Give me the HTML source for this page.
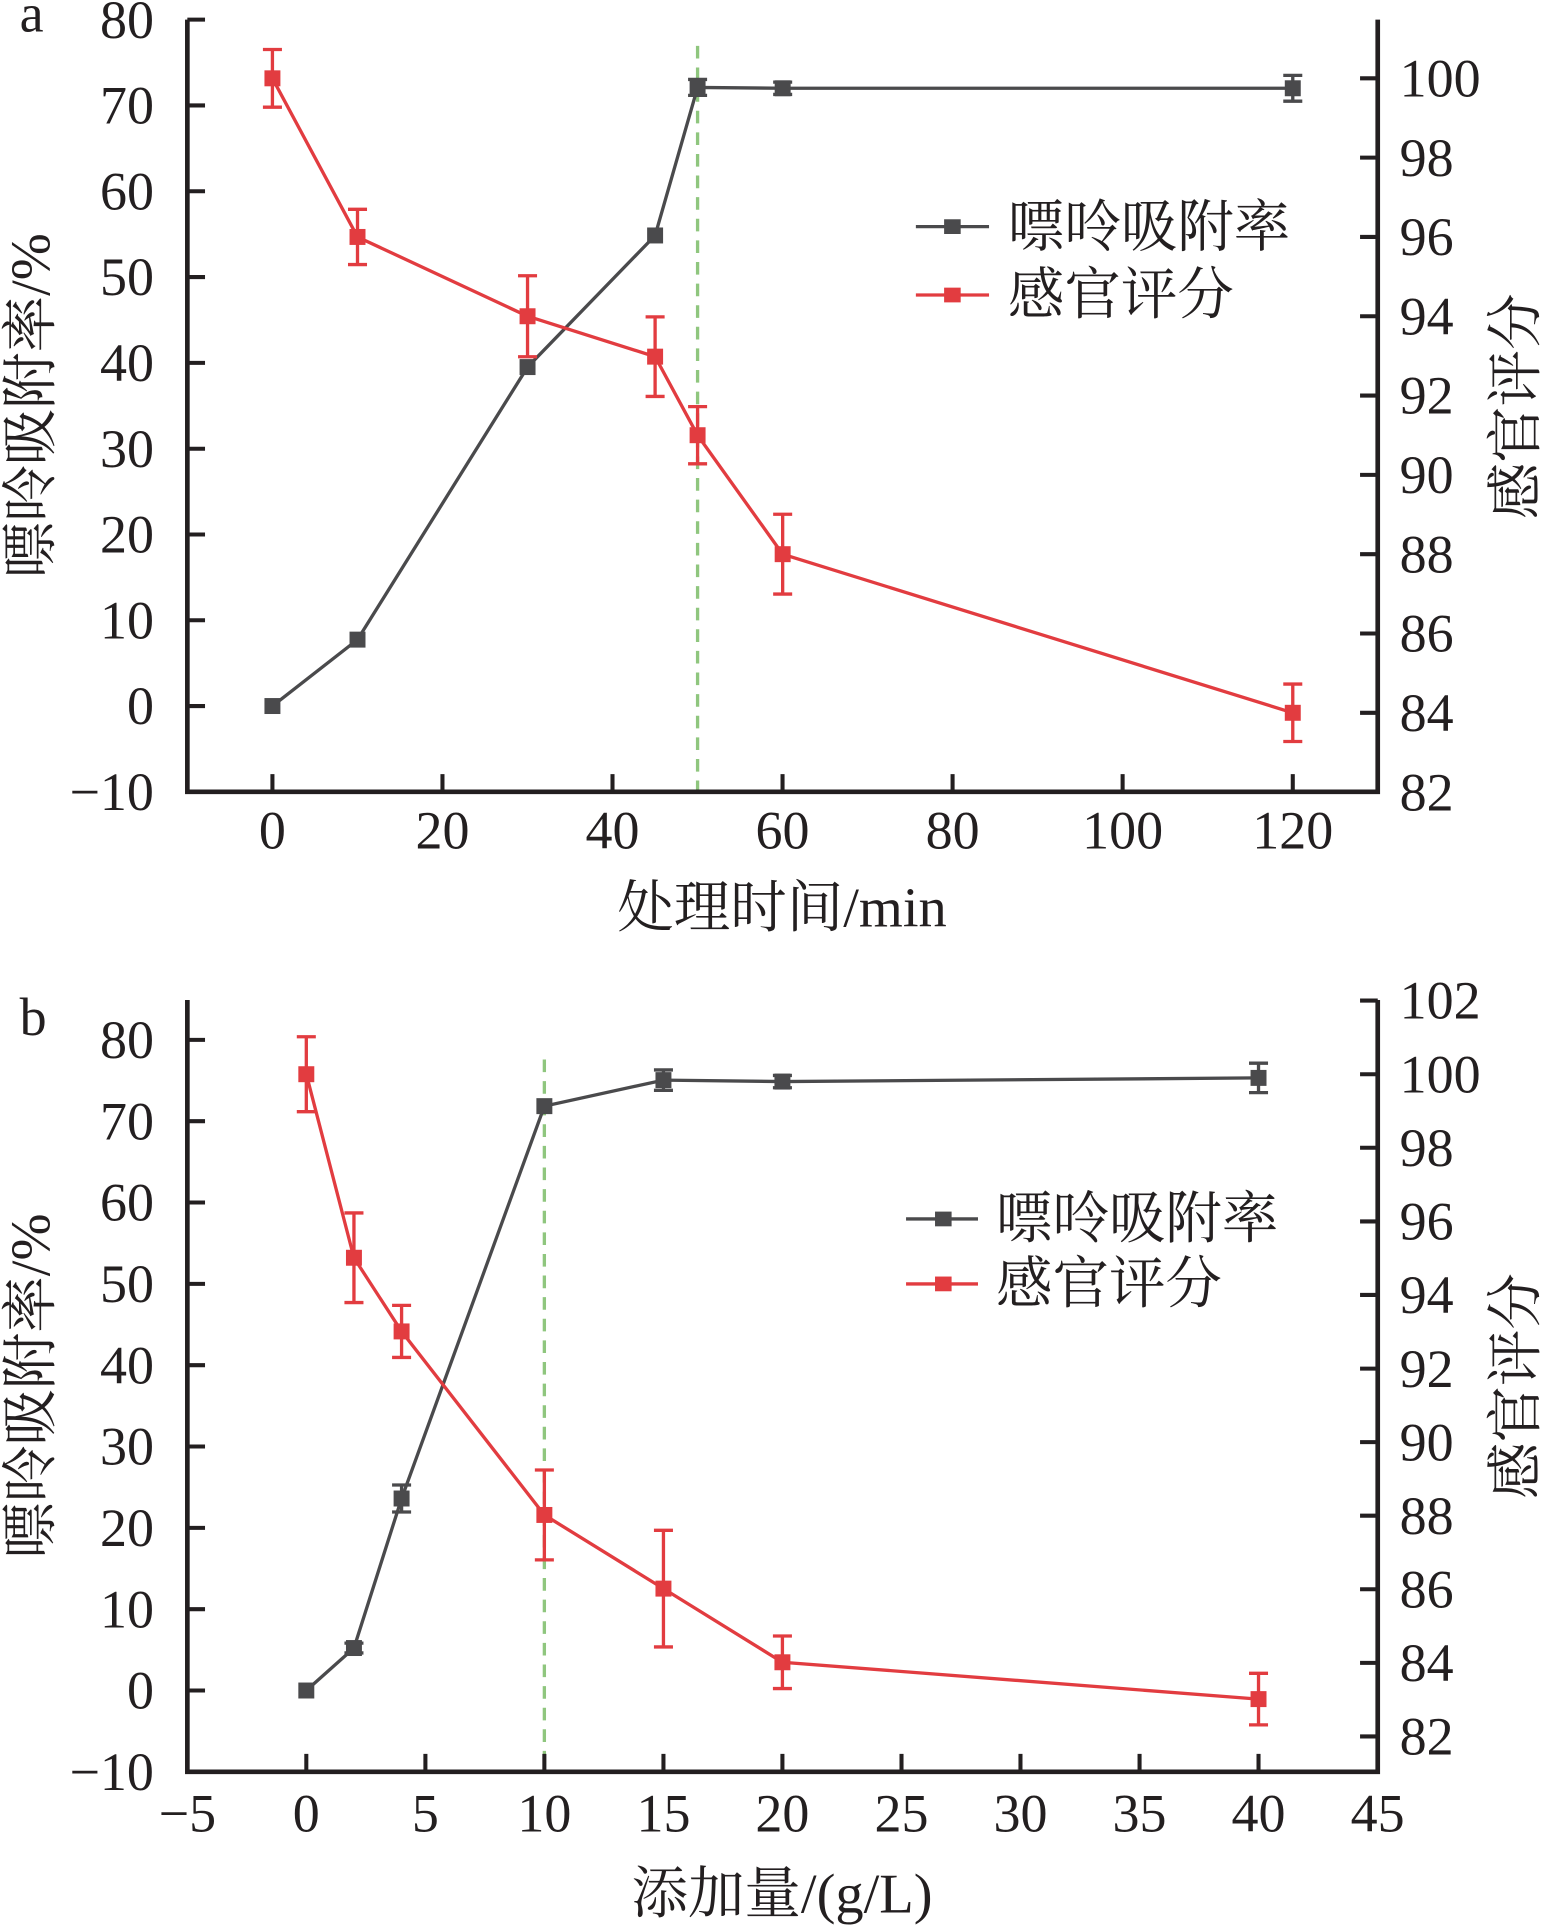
<!DOCTYPE html>
<html>
<head>
<meta charset="utf-8">
<style>
html,body{margin:0;padding:0;background:#fff;}
svg{display:block;}
text{font-family:"Liberation Serif","Noto Serif CJK SC",serif;fill:#231f20;}
</style>
</head>
<body>
<svg width="1542" height="1925" viewBox="0 0 1256 1568" preserveAspectRatio="none" xmlns="http://www.w3.org/2000/svg">
<rect x="0" y="0" width="1256" height="1568" fill="#fff"/>

<!-- ================= PANEL A ================= -->
<g>
<!-- green dashed -->
<line x1="568.2" y1="37.4" x2="568.2" y2="645" stroke="#8fc67e" stroke-width="2.7" stroke-dasharray="10.3 7.3"/>

<!-- axes -->
<path d="M152.6,16 V645 H1122.2 V16" fill="none" stroke="#231f20" stroke-width="3.8"/>
<!-- left ticks -->
<path d="M152.6,16h14.4M152.6,85.9h14.4M152.6,155.8h14.4M152.6,225.7h14.4M152.6,295.6h14.4M152.6,365.5h14.4M152.6,435.4h14.4M152.6,505.2h14.4M152.6,575.1h14.4" stroke="#231f20" stroke-width="3.3"/>
<!-- right ticks -->
<path d="M1122.2,63.8h-14.4M1122.2,128.4h-14.4M1122.2,193h-14.4M1122.2,257.6h-14.4M1122.2,322.2h-14.4M1122.2,386.8h-14.4M1122.2,451.4h-14.4M1122.2,516h-14.4M1122.2,580.6h-14.4" stroke="#231f20" stroke-width="3.3"/>
<!-- x ticks -->
<path d="M221.9,645v-14.4M360.4,645v-14.4M498.9,645v-14.4M637.4,645v-14.4M775.9,645v-14.4M914.4,645v-14.4M1053,645v-14.4" stroke="#231f20" stroke-width="3.3"/>

<!-- left tick labels -->
<g font-size="44" text-anchor="end">
<text x="125.4" y="30.8">80</text>
<text x="125.4" y="100.7">70</text>
<text x="125.4" y="170.6">60</text>
<text x="125.4" y="240.5">50</text>
<text x="125.4" y="310.4">40</text>
<text x="125.4" y="380.3">30</text>
<text x="125.4" y="450.2">20</text>
<text x="125.4" y="520">10</text>
<text x="125.4" y="589.9">0</text>
<text x="125.4" y="659.8">−10</text>
</g>
<!-- right tick labels -->
<g font-size="44" text-anchor="start">
<text x="1140" y="78.6">100</text>
<text x="1140" y="143.2">98</text>
<text x="1140" y="207.8">96</text>
<text x="1140" y="272.4">94</text>
<text x="1140" y="337">92</text>
<text x="1140" y="401.6">90</text>
<text x="1140" y="466.2">88</text>
<text x="1140" y="530.8">86</text>
<text x="1140" y="595.4">84</text>
<text x="1140" y="660">82</text>
</g>
<!-- x tick labels -->
<g font-size="44" text-anchor="middle">
<text x="221.9" y="691">0</text>
<text x="360.4" y="691">20</text>
<text x="498.9" y="691">40</text>
<text x="637.4" y="691">60</text>
<text x="775.9" y="691">80</text>
<text x="914.4" y="691">100</text>
<text x="1053" y="691">120</text>
</g>

<!-- panel letter -->
<text x="16" y="25.8" font-size="44">a</text>

<!-- axis titles -->
<text x="637" y="754.5" font-size="46" text-anchor="middle">处理时间/min</text>
<text transform="translate(40.5,330.5) rotate(-90)" font-size="46" text-anchor="middle">嘌呤吸附率/%</text>
<text transform="translate(1250,331) rotate(-90)" font-size="46" text-anchor="middle">感官评分</text>

<!-- black series -->
<polyline points="221.9,575.1 291.2,521 429.7,299 533.6,191.8 568.2,71.2 637.5,71.9 1053,71.9" fill="none" stroke="#4a4a4c" stroke-width="2.7"/>
<path d="M568.2,64.7V77.7M560.45,64.7h15.5M560.45,77.7h15.5M637.5,66.9V76.9M629.75,66.9h15.5M629.75,76.9h15.5M1053,61.4V82.4M1045.25,61.4h15.5M1045.25,82.4h15.5" fill="none" stroke="#4a4a4c" stroke-width="2.7"/>
<g fill="#4a4a4c">
<rect x="215.4" y="568.6" width="13" height="13"/>
<rect x="284.7" y="514.5" width="13" height="13"/>
<rect x="423.2" y="292.5" width="13" height="13"/>
<rect x="527.1" y="185.3" width="13" height="13"/>
<rect x="561.7" y="64.7" width="13" height="13"/>
<rect x="631" y="65.4" width="13" height="13"/>
<rect x="1046.5" y="65.4" width="13" height="13"/>
</g>

<!-- red series -->
<polyline points="221.9,63.8 291.2,193 429.7,257.6 533.6,290.5 568.2,354.5 637.5,451.4 1053,580.6" fill="none" stroke="#e23c40" stroke-width="2.7"/>
<path d="M221.9,40.3V87.3M214.15,40.3h15.5M214.15,87.3h15.5
M291.2,170.5V215.5M283.45,170.5h15.5M283.45,215.5h15.5
M429.7,224.6V290.6M421.95,224.6h15.5M421.95,290.6h15.5
M533.6,258.1V322.9M525.85,258.1h15.5M525.85,322.9h15.5
M568.2,331.2V377.8M560.45,331.2h15.5M560.45,377.8h15.5
M637.5,418.9V483.9M629.75,418.9h15.5M629.75,483.9h15.5
M1053,557.2V604M1045.25,557.2h15.5M1045.25,604h15.5" fill="none" stroke="#e23c40" stroke-width="2.7"/>
<g fill="#e23c40">
<rect x="215.4" y="57.3" width="13" height="13"/>
<rect x="284.7" y="186.5" width="13" height="13"/>
<rect x="423.2" y="251.1" width="13" height="13"/>
<rect x="527.1" y="284" width="13" height="13"/>
<rect x="561.7" y="348" width="13" height="13"/>
<rect x="631" y="444.9" width="13" height="13"/>
<rect x="1046.5" y="574.1" width="13" height="13"/>
</g>

<!-- legend -->
<line x1="746" y1="184.6" x2="805.6" y2="184.6" stroke="#4a4a4c" stroke-width="2.7"/>
<rect x="769" y="178.6" width="13.5" height="12" fill="#4a4a4c"/>
<text x="821" y="200.5" font-size="46">嘌呤吸附率</text>
<line x1="746" y1="240.3" x2="805.6" y2="240.3" stroke="#e23c40" stroke-width="2.7"/>
<rect x="769" y="234.3" width="13.5" height="12" fill="#e23c40"/>
<text x="821" y="255.5" font-size="46">感官评分</text>
</g>

<!-- ================= PANEL B ================= -->
<g>
<line x1="443.4" y1="863" x2="443.4" y2="1443" stroke="#8fc67e" stroke-width="2.7" stroke-dasharray="10.3 7.3"/>

<path d="M152.6,814.5 V1443.25 H1122.2 V814.5" fill="none" stroke="#231f20" stroke-width="3.8"/>
<path d="M152.6,847h14.4M152.6,913.25h14.4M152.6,979.5h14.4M152.6,1045.75h14.4M152.6,1112h14.4M152.6,1178.25h14.4M152.6,1244.5h14.4M152.6,1310.75h14.4M152.6,1377h14.4" stroke="#231f20" stroke-width="3.3"/>
<path d="M1122.2,815h-14.4M1122.2,875h-14.4M1122.2,934.9h-14.4M1122.2,994.9h-14.4M1122.2,1054.8h-14.4M1122.2,1114.8h-14.4M1122.2,1174.7h-14.4M1122.2,1234.6h-14.4M1122.2,1294.5h-14.4M1122.2,1354.5h-14.4M1122.2,1414.4h-14.4" stroke="#231f20" stroke-width="3.3"/>
<path d="M249.5,1443v-14.4M346.5,1443v-14.4M443.4,1443v-14.4M540.4,1443v-14.4M637.3,1443v-14.4M734.3,1443v-14.4M831.2,1443v-14.4M928.2,1443v-14.4M1025.1,1443v-14.4" stroke="#231f20" stroke-width="3.3"/>

<g font-size="44" text-anchor="end">
<text x="125.4" y="861.8">80</text>
<text x="125.4" y="928">70</text>
<text x="125.4" y="994.3">60</text>
<text x="125.4" y="1060.5">50</text>
<text x="125.4" y="1126.8">40</text>
<text x="125.4" y="1193">30</text>
<text x="125.4" y="1259.3">20</text>
<text x="125.4" y="1325.5">10</text>
<text x="125.4" y="1391.8">0</text>
<text x="125.4" y="1458">−10</text>
</g>
<g font-size="44" text-anchor="start">
<text x="1140" y="829.8">102</text>
<text x="1140" y="889.8">100</text>
<text x="1140" y="949.7">98</text>
<text x="1140" y="1009.7">96</text>
<text x="1140" y="1069.6">94</text>
<text x="1140" y="1129.6">92</text>
<text x="1140" y="1189.5">90</text>
<text x="1140" y="1249.4">88</text>
<text x="1140" y="1309.3">86</text>
<text x="1140" y="1369.3">84</text>
<text x="1140" y="1429.2">82</text>
</g>
<g font-size="44" text-anchor="middle">
<text x="152.6" y="1492">−5</text>
<text x="249.5" y="1492">0</text>
<text x="346.5" y="1492">5</text>
<text x="443.4" y="1492">10</text>
<text x="540.4" y="1492">15</text>
<text x="637.3" y="1492">20</text>
<text x="734.3" y="1492">25</text>
<text x="831.2" y="1492">30</text>
<text x="928.2" y="1492">35</text>
<text x="1025.1" y="1492">40</text>
<text x="1122.1" y="1492">45</text>
</g>

<text x="16" y="843" font-size="44">b</text>

<text x="637" y="1558" font-size="46" text-anchor="middle">添加量/(g/L)</text>
<text transform="translate(40.5,1129) rotate(-90)" font-size="46" text-anchor="middle">嘌呤吸附率/%</text>
<text transform="translate(1250,1129) rotate(-90)" font-size="46" text-anchor="middle">感官评分</text>

<!-- black series -->
<polyline points="249.5,1377 288.3,1342.4 327.1,1220.6 443.4,901 540.4,879.8 637.3,881 1025.1,878" fill="none" stroke="#4a4a4c" stroke-width="2.7"/>
<path d="M288.3,1338.4V1346.4M280.55,1338.4h15.5M280.55,1346.4h15.5
M327.1,1209.6V1231.6M319.35,1209.6h15.5M319.35,1231.6h15.5
M540.4,871.5V888.1M532.65,871.5h15.5M532.65,888.1h15.5
M637.3,876V886M629.55,876h15.5M629.55,886h15.5
M1025.1,866V890M1017.35,866h15.5M1017.35,890h15.5" fill="none" stroke="#4a4a4c" stroke-width="2.7"/>
<g fill="#4a4a4c">
<rect x="243" y="1370.5" width="13" height="13"/>
<rect x="281.8" y="1335.9" width="13" height="13"/>
<rect x="320.6" y="1214.1" width="13" height="13"/>
<rect x="436.9" y="894.5" width="13" height="13"/>
<rect x="533.9" y="873.3" width="13" height="13"/>
<rect x="630.8" y="874.5" width="13" height="13"/>
<rect x="1018.6" y="871.5" width="13" height="13"/>
</g>

<!-- red series -->
<polyline points="249.5,875 288.3,1024.5 327.1,1084.5 443.4,1234 540.4,1294 637.3,1354 1025.1,1384" fill="none" stroke="#e23c40" stroke-width="2.7"/>
<path d="M249.5,844.5V905.5M241.75,844.5h15.5M241.75,905.5h15.5
M288.3,988V1061M280.55,988h15.5M280.55,1061h15.5
M327.1,1063.3V1105.7M319.35,1063.3h15.5M319.35,1105.7h15.5
M443.4,1197.4V1270.6M435.65,1197.4h15.5M435.65,1270.6h15.5
M540.4,1246.5V1341.5M532.65,1246.5h15.5M532.65,1341.5h15.5
M637.3,1332.6V1375.4M629.55,1332.6h15.5M629.55,1375.4h15.5
M1025.1,1363V1405M1017.35,1363h15.5M1017.35,1405h15.5" fill="none" stroke="#e23c40" stroke-width="2.7"/>
<g fill="#e23c40">
<rect x="243" y="868.5" width="13" height="13"/>
<rect x="281.8" y="1018" width="13" height="13"/>
<rect x="320.6" y="1078" width="13" height="13"/>
<rect x="436.9" y="1227.5" width="13" height="13"/>
<rect x="533.9" y="1287.5" width="13" height="13"/>
<rect x="630.8" y="1347.5" width="13" height="13"/>
<rect x="1018.6" y="1377.5" width="13" height="13"/>
</g>

<!-- legend -->
<line x1="738" y1="992.9" x2="796.6" y2="992.9" stroke="#4a4a4c" stroke-width="2.7"/>
<rect x="761.6" y="986.9" width="13.5" height="12" fill="#4a4a4c"/>
<text x="811.3" y="1008" font-size="46">嘌呤吸附率</text>
<line x1="738" y1="1045.8" x2="796.6" y2="1045.8" stroke="#e23c40" stroke-width="2.7"/>
<rect x="761.6" y="1039.8" width="13.5" height="12" fill="#e23c40"/>
<text x="811.3" y="1061" font-size="46">感官评分</text>
</g>
</svg>
</body>
</html>
